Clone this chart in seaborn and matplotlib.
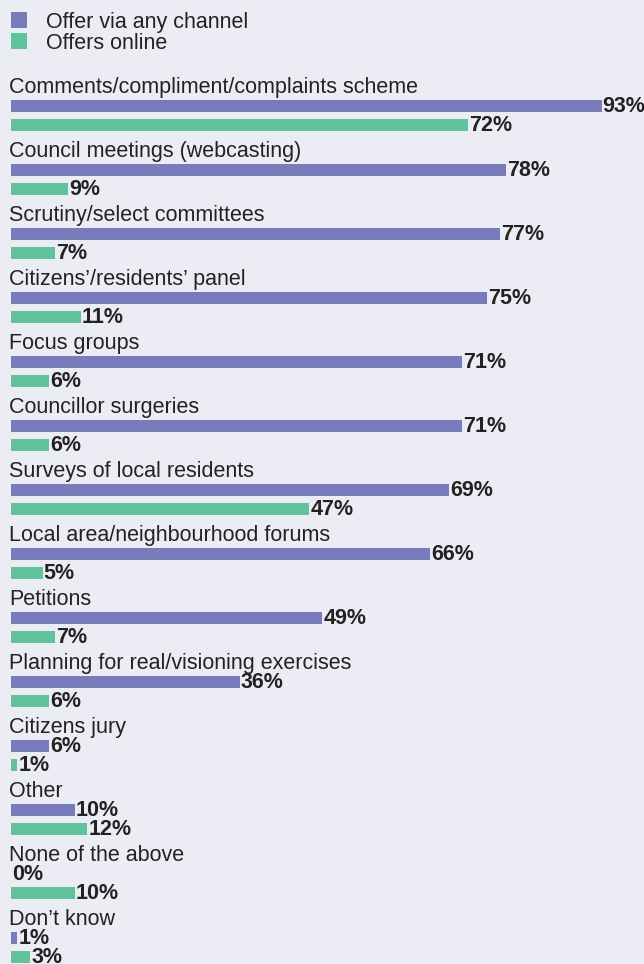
import numpy as np
import pandas as pd
import seaborn as sns
import matplotlib.pyplot as plt
from matplotlib.patches import Rectangle

# Survey results: share of councils offering each engagement method
categories = [
    "Comments/compliment/complaints scheme",
    "Council meetings (webcasting)",
    "Scrutiny/select committees",
    "Citizens’/residents’ panel",
    "Focus groups",
    "Councillor surgeries",
    "Surveys of local residents",
    "Local area/neighbourhood forums",
    "Petitions",
    "Planning for real/visioning exercises",
    "Citizens jury",
    "Other",
    "None of the above",
    "Don’t know",
]
any_channel = [93, 78, 77, 75, 71, 71, 69, 66, 49, 36, 6, 10, 0, 1]
online = [72, 9, 7, 11, 6, 6, 47, 5, 7, 6, 1, 12, 10, 3]
series_names = ["Offer via any channel", "Offers online"]

BG = "#ECECF4"
PURPLE = "#797CBA"
GREEN = "#5FC39B"
W, H = 644, 964

# vertical layout in pixel units (top = 0)
first_row = 106
row_step = 64
pair_gap = 19
bar_h = 12

rows = []
for i, cat in enumerate(categories):
    base = first_row + i * row_step
    rows.append({"category": cat, "series": series_names[0], "value": any_channel[i], "pos": base})
    rows.append({"category": cat, "series": series_names[1], "value": online[i], "pos": base + pair_gap})
df = pd.DataFrame(rows)

sns.set_theme(style="white")
plt.rcParams["font.family"] = ["Liberation Sans", "DejaVu Sans"]

fig = plt.figure(figsize=(W / 100, H / 100), dpi=100, facecolor=BG)
ax = fig.add_axes([11 / W, 0, 635 / W, 1])
ax.set_facecolor(BG)

sns.barplot(
    data=df, x="value", y="pos", hue="series", orient="h",
    native_scale=True, dodge=False, errorbar=None, legend=False,
    palette={series_names[0]: PURPLE, series_names[1]: GREEN},
    width=bar_h / pair_gap, saturation=1, linewidth=0, ax=ax,
)

ax.set_xlim(0, 100)
ax.set_ylim(H, 0)
ax.set_axis_off()

FS = 15.5
FS_VAL = 15.5
# category titles above each pair of bars
for i, cat in enumerate(categories):
    base = first_row + i * row_step
    ax.annotate(cat, xy=(0, base), xytext=(-2, 13), textcoords="offset pixels",
                ha="left", va="baseline", fontsize=FS, color="#222222")

# value labels at the end of each bar
for _, r in df.iterrows():
    ax.annotate(f"{r['value']}%", xy=(r["value"], r["pos"]), xytext=(1, -6),
                textcoords="offset pixels", ha="left", va="baseline",
                fontsize=FS_VAL, fontweight="bold", color="#222222")

# legend drawn in figure pixel coordinates
for k, (name, col) in enumerate(zip(series_names, [PURPLE, GREEN])):
    top = 12 + k * 21
    fig.add_artist(Rectangle((11 / W, 1 - (top + 16) / H), 16 / W, 16 / H,
                             transform=fig.transFigure, facecolor=col, edgecolor="none"))
    fig.text(46 / W, 1 - (top + 16) / H, name, ha="left", va="baseline",
             fontsize=FS, color="#222222")

fig.savefig("out.png", dpi=100, facecolor=BG)
